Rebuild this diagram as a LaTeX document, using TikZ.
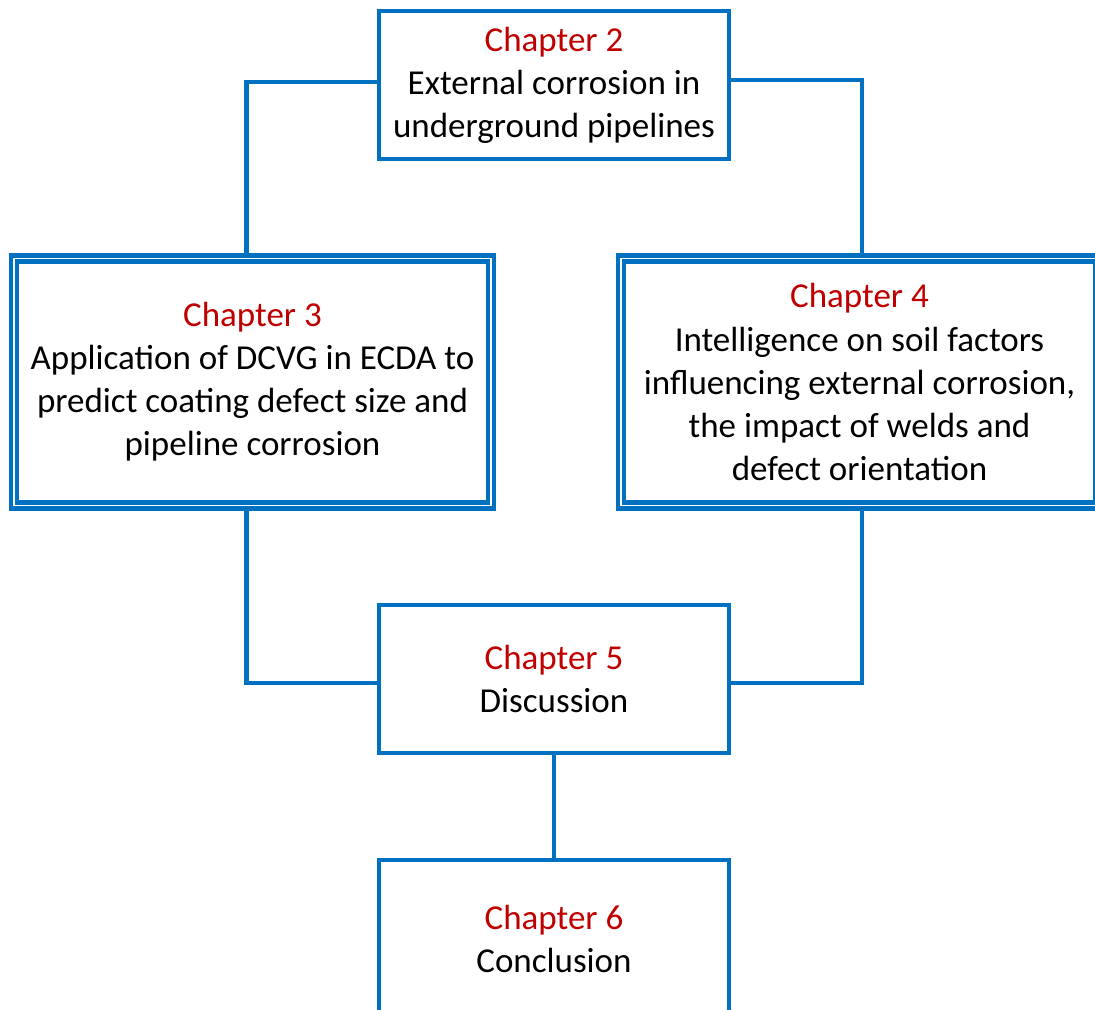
\documentclass[tikz,border=0pt]{standalone}
\usepackage{fontspec}
\setmainfont{Carlito}
\usetikzlibrary{positioning}
\definecolor{chapblue}{HTML}{0070C0}
\definecolor{chapred}{HTML}{C00000}
\newcommand{\chap}[1]{\textcolor{chapred}{Chapter #1}}

\begin{document}
\begin{tikzpicture}[
		block/.style={
			rectangle,
			draw=chapblue,
			fill=white,
			line width=3pt,
			inner sep=0pt,
			minimum width=8.75cm,
			minimum height=3.7cm,
			align=center,
			font=\fontsize{24.9}{30.6}\selectfont
		},
		bigblock/.style={
			block,
			double=white,
			double distance=1.4pt,
			line width=3.1pt,
			minimum width=11.925cm,
			minimum height=6.175cm
		},
		link/.style={chapblue, line width=3pt}]

		\useasboundingbox (0,0) rectangle (27.375,-25.225);

		\node [block] (ch2) at (13.85,-2.125) {\chap{2}\\External corrosion in\\underground pipelines};
		\node [bigblock] (ch3) at (6.3125,-9.55) {\chap{3}\\Application of DCVG in ECDA to\\predict coating defect size and\\pipeline corrosion};
		\node [bigblock] (ch4) at (21.4875,-9.55) {\chap{4}\\Intelligence on soil factors\\influencing external corrosion,\\the impact of welds and\\defect orientation};
		\node [block] (ch5) at (13.85,-16.975) {\chap{5}\\Discussion};
		\node [block, minimum height=3.95cm] (ch6) at (13.85,-23.475) {\chap{6}\\Conclusion};

		\draw [link] ([yshift=0.075cm]ch2.west) -| ([xshift=-0.15cm]ch3.north);
		\draw [link] ([yshift=0.125cm]ch2.east) -| ([xshift=0.0625cm]ch4.north);
		\draw [link] ([xshift=-0.15cm]ch3.south) |- ([yshift=-0.1cm]ch5.west);
		\draw [link] ([xshift=0.0625cm]ch4.south) |- ([yshift=-0.1cm]ch5.east);
		\draw [link] (ch5) -- (ch6);
	\end{tikzpicture}
\end{document}
